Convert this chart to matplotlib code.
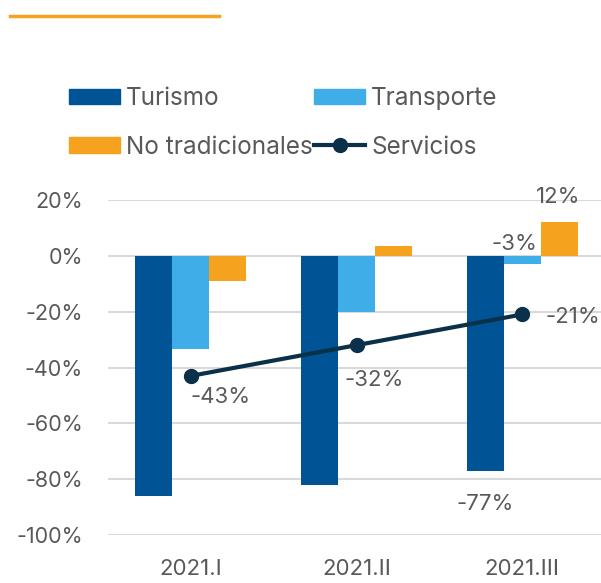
import matplotlib
matplotlib.use("Agg")
import matplotlib.pyplot as plt
import numpy as np
from matplotlib.lines import Line2D
from matplotlib.patches import Patch

categories = ["2021.I", "2021.II", "2021.III"]
turismo = [-86, -82, -77]
transporte = [-33.5, -20, -3]
no_tradicionales = [-9, 3.6, 12]
servicios = [-43, -32, -21]
y_ticks = [20, 0, -20, -40, -60, -80, -100]

C_TUR = "#005496"
C_TRA = "#3FADE8"
C_NOT = "#F5A21F"
C_SER = "#0B3049"
C_TXT = "#595959"
C_GRID = "#D9D9D9"

plt.rcParams["font.family"] = ["Inter", "DejaVu Sans"]

fig = plt.figure(figsize=(6.01, 5.83), dpi=100)
ax = fig.add_axes([108/601, 1-535/583, (605-108)/601, (535-200)/583])

x = np.arange(len(categories))
w = 0.223
ax.bar(x - w, turismo, w, color=C_TUR, zorder=2)
ax.bar(x, transporte, w, color=C_TRA, zorder=2)
ax.bar(x + w, no_tradicionales, w, color=C_NOT, zorder=2)
ax.plot(x, servicios, color=C_SER, lw=3, marker="o", ms=10, zorder=3)

ax.set_xlim(-0.5, 2.5)
ax.set_ylim(-100, 20)
ax.set_yticks(y_ticks)
ax.set_yticklabels([f"{v}%" for v in y_ticks])
ax.set_xticks(x)
ax.set_xticklabels(categories)
ax.tick_params(length=0, labelsize=15.5, labelcolor=C_TXT)
ax.tick_params(axis="x", pad=17, labelsize=16)
ax.tick_params(axis="y", pad=18)
ax.yaxis.grid(True, color=C_GRID, lw=1.5, zorder=0)
ax.set_axisbelow(True)
for s in ax.spines.values():
    s.set_visible(False)

def lab(xv, yv, text, dx, dy, ha="center"):
    ax.annotate(text, (xv, yv), xytext=(dx, dy), textcoords="offset pixels",
                ha=ha, va="center", fontsize=16, color=C_TXT, annotation_clip=False)

# Servicios labels
lab(x[0], servicios[0], f"{servicios[0]}%", 30, -21)
lab(x[1], servicios[1], f"{servicios[1]}%", 18, -35)
lab(x[2], servicios[2], f"{servicios[2]}%", 23, -3, ha="left")
# bar labels for 2021.III
lab(x[2] - w, turismo[2], f"{turismo[2]}%", 0, -33)
lab(x[2], transporte[2], f"{transporte[2]}%", -8, 20)
lab(x[2] + w, no_tradicionales[2], f"{no_tradicionales[2]}%", -1, 25)

# top decorative line
fig.add_artist(Line2D([10/601, 219/601], [1-16/583, 1-16/583], color=C_NOT, lw=2.5))

handles = [Patch(color=C_TUR), Patch(color=C_TRA), Patch(color=C_NOT),
           Line2D([], [], color=C_SER, lw=3, marker="o", ms=10)]
labels = ["Turismo", "Transporte", "No tradicionales", "Servicios"]
order = [0, 2, 1, 3]
leg = fig.legend([handles[i] for i in order], [labels[i] for i in order], ncol=2,
                 loc="upper left", bbox_to_anchor=(69/601, 1-87/583), frameon=False,
                 fontsize=17.5, handlelength=2.1, handleheight=0.6, handletextpad=0.25,
                 labelspacing=1.05, columnspacing=0.05, borderaxespad=0, borderpad=0)
for t in leg.get_texts():
    t.set_color(C_TXT)

fig.savefig("out.png", dpi=100)
